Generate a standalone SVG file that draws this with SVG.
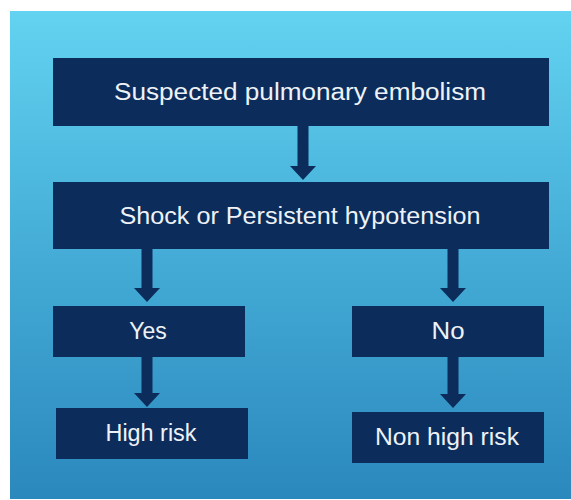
<svg xmlns="http://www.w3.org/2000/svg" width="571" height="500" viewBox="0 0 571 500">
<defs>
<linearGradient id="bg" x1="0" y1="0" x2="0" y2="1">
<stop offset="0" stop-color="#63d3f1"/>
<stop offset="0.5" stop-color="#44acd6"/>
<stop offset="1" stop-color="#2b88bd"/>
</linearGradient>
<style>
.box{fill:#0c2d5c}
.t{fill:#eef2f7;font-family:"Liberation Sans","DejaVu Sans",sans-serif;font-size:23px;text-anchor:middle;dominant-baseline:central}
.arr{fill:#0c2d5c}
</style>
</defs>
<rect x="0" y="0" width="571" height="500" fill="#ffffff"/>
<rect x="10" y="11" width="561" height="488" fill="url(#bg)"/>
<g id="connectors">
<path class="arr" d="M297.5 126 H308.5 V166 H316 L303 180 L290 166 H297.5 Z"/>
<path class="arr" d="M141.5 249 H152.5 V288 H160 L147 302 L134 288 H141.5 Z"/>
<path class="arr" d="M447.5 249 H458.5 V288 H466 L453 302 L440 288 H447.5 Z"/>
<path class="arr" d="M141.5 357 H152.5 V393 H160 L147 407 L134 393 H141.5 Z"/>
<path class="arr" d="M447.5 357 H458.5 V394 H466 L453 408 L440 394 H447.5 Z"/>
</g>
<g id="n1"><rect class="box" x="53" y="58" width="496" height="68"/><text class="t" x="300" y="92" textLength="372" lengthAdjust="spacingAndGlyphs">Suspected pulmonary embolism</text></g>
<g id="n2"><rect class="box" x="53" y="182" width="496" height="67"/><text class="t" x="300" y="216" textLength="361" lengthAdjust="spacingAndGlyphs">Shock or Persistent hypotension</text></g>
<g id="n3"><rect class="box" x="53" y="306" width="192" height="51"/><text class="t" x="148" y="331">Yes</text></g>
<g id="n4"><rect class="box" x="352" y="306" width="192" height="51"/><text class="t" x="448" y="331" textLength="33" lengthAdjust="spacingAndGlyphs">No</text></g>
<g id="n5"><rect class="box" x="56" y="408" width="192" height="51"/><text class="t" x="151" y="433" textLength="91" lengthAdjust="spacingAndGlyphs">High risk</text></g>
<g id="n6"><rect class="box" x="352" y="412" width="192" height="51"/><text class="t" x="447" y="437" textLength="144" lengthAdjust="spacingAndGlyphs">Non high risk</text></g>
</svg>
